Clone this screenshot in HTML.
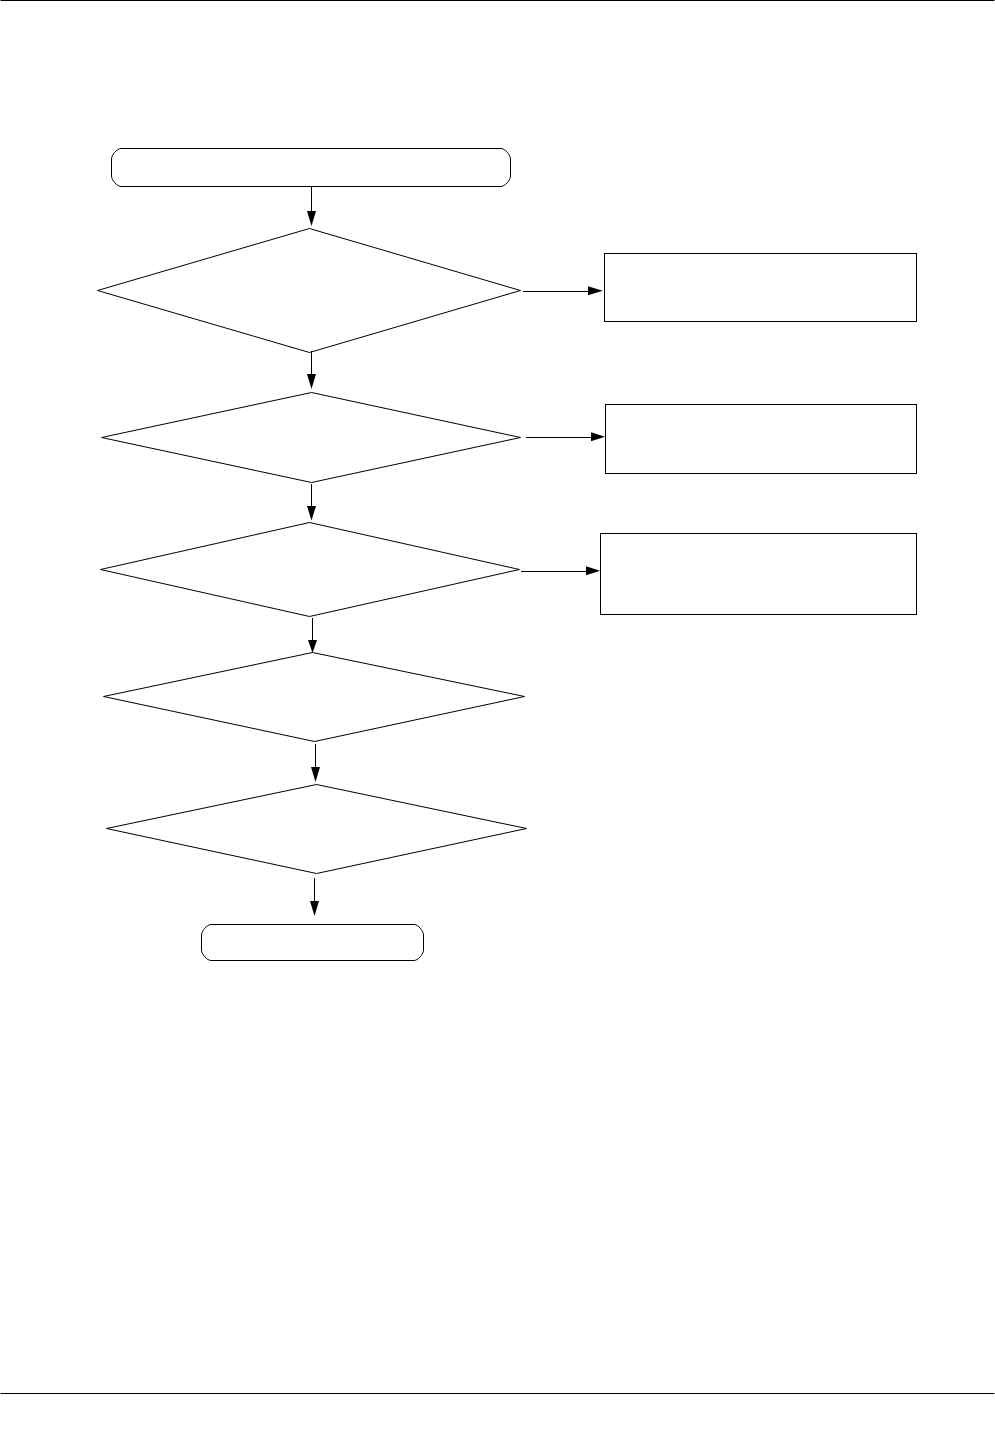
<!DOCTYPE html>
<html>
<head>
<meta charset="utf-8">
<style>
html,body{margin:0;padding:0;background:#fff;}
body{width:995px;height:1447px;overflow:hidden;position:relative;font-family:"Liberation Sans",sans-serif;}
svg{position:absolute;left:0;top:0;}
</style>
</head>
<body>
<svg width="995" height="1447" viewBox="0 0 995 1447">
<g fill="none" stroke="#000" stroke-width="1">
  <!-- page rules -->
  <line x1="0.5" y1="0.5" x2="994.5" y2="0.5"/>
  <line x1="0.5" y1="1393.5" x2="994.5" y2="1393.5"/>

  <!-- start terminator -->
  <path d="M121,148.5H501C504.8,148.5 510.5,154.8 510.5,159V176C510.5,180.2 504.8,186.5 501,186.5H121C117.2,186.5 111.5,180.2 111.5,176V159C111.5,154.8 117.2,148.5 121,148.5Z"/>

  <!-- diamonds -->
  <polygon points="309.5,228.5 520.5,290.5 309.5,352.5 97.5,290.5"/>
  <polygon points="311.5,392.5 520.5,437.5 311.5,482.5 101.5,437.5"/>
  <polygon points="309.5,522.5 519.5,569.5 309.5,616.5 100.5,569.5"/>
  <polygon points="312.5,652.5 524.5,696.5 314.5,741.5 103.5,696.5"/>
  <polygon points="316.5,784.5 526.5,828.5 316.5,873.5 106.5,828.5"/>

  <!-- end terminator -->
  <path d="M211,924.5H414C417.8,924.5 423.5,930.8 423.5,935V950C423.5,954.2 417.8,960.5 414,960.5H211C207.2,960.5 201.5,954.2 201.5,950V935C201.5,930.8 207.2,924.5 211,924.5Z"/>

  <!-- side boxes -->
  <g shape-rendering="crispEdges">
    <rect x="604.5" y="253.5" width="312" height="68"/>
    <rect x="605.5" y="404.5" width="311" height="69"/>
    <rect x="600.5" y="533.5" width="316" height="81"/>
  </g>

  <!-- connector lines -->
  <g shape-rendering="crispEdges">
    <line x1="311.5" y1="186" x2="311.5" y2="212"/>
    <line x1="311.5" y1="351" x2="311.5" y2="375"/>
    <line x1="311.5" y1="484" x2="311.5" y2="507"/>
    <line x1="312.5" y1="618" x2="312.5" y2="641"/>
    <line x1="315.5" y1="744" x2="315.5" y2="768"/>
    <line x1="314.5" y1="878" x2="314.5" y2="902"/>
    <line x1="523" y1="291.5" x2="589" y2="291.5"/>
    <line x1="526" y1="437.5" x2="592" y2="437.5"/>
    <line x1="521" y1="571.5" x2="587" y2="571.5"/>
  </g>
</g>
<g fill="#000" stroke="none">
  <polygon points="307,211 316,211 311.5,226"/>
  <polygon points="307,374 316,374 311.5,389"/>
  <polygon points="307,506 316,506 311.5,520.6"/>
  <polygon points="308,640 317,640 312.5,653"/>
  <polygon points="311,767 320,767 315.5,782"/>
  <polygon points="310,901 319,901 314.5,916"/>
  <polygon points="588,286.2 588,295.2 602.8,290.7"/>
  <polygon points="591,432.2 591,441.2 605,436.7"/>
  <polygon points="586,566.2 586,575.2 600,570.7"/>
</g>
</svg>
</body>
</html>
